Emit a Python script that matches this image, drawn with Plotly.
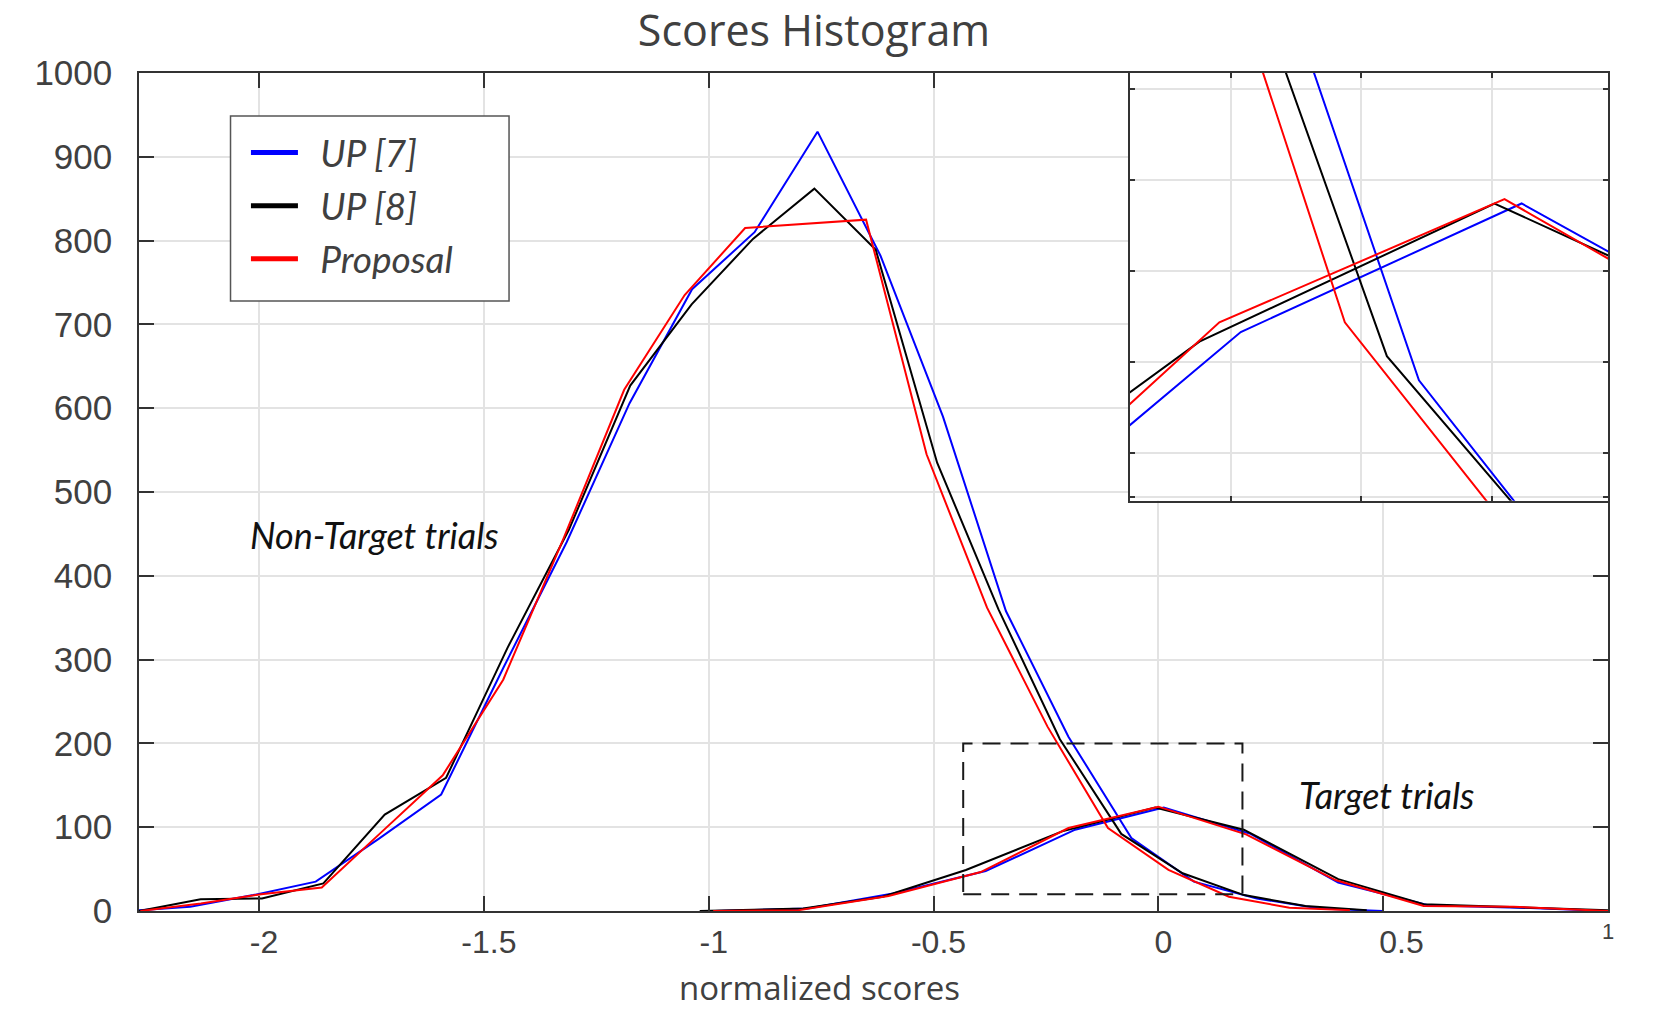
import plotly.graph_objects as go

# ---------------- data ----------------
# Non-target trials
up7_nontarget_x = [-2.292, -2.153, -2.013, -1.874, -1.734, -1.595, -1.455, -1.316, -1.176, -1.037,
                   -0.898, -0.758, -0.618, -0.479, -0.339, -0.200, -0.060, 0.079, 0.219, 0.358, 0.498]
up7_nontarget_y = [0, 5, 19, 35, 86, 139, 292, 440, 606, 742,
                   810, 930, 782, 590, 358, 208, 87, 35, 15, 3, 0]

up8_nontarget_x = [-2.2665, -2.130, -1.9935, -1.857, -1.7205, -1.584, -1.4475, -1.311, -1.1745, -1.038,
                   -0.9015, -0.765, -0.6285, -0.492, -0.3555, -0.219, -0.0825, 0.054, 0.1905, 0.327, 0.4635]
up8_nontarget_y = [0, 14, 15, 33, 115, 159, 314, 455, 627, 724,
                   802, 862, 789, 535, 360, 205, 92, 45, 19, 6, 1]

prop_nontarget_x = [-2.264, -2.1295, -1.995, -1.8605, -1.726, -1.5915, -1.457, -1.3225, -1.188, -1.0535,
                    -0.919, -0.7845, -0.65, -0.5155, -0.381, -0.2465, -0.112, 0.0225, 0.157, 0.2915, 0.426]
prop_nontarget_y = [0, 9, 20, 28, 95, 162, 276, 445, 622, 735,
                    815, 820, 825, 545, 362, 220, 99, 49, 17, 4, 1]

# Target trials
up7_target_x = [-0.985, -0.78, -0.59, -0.384, -0.185, 0.012, 0.205, 0.40, 0.60, 0.80, 1.0]
up7_target_y = [0, 3, 21, 47.7, 97, 123.6, 92, 34, 7, 4, 0]

up8_target_x = [-1.02, -0.79, -0.613, -0.428, -0.214, -0.007, 0.19, 0.40, 0.59, 0.79, 1.0]
up8_target_y = [0, 3, 17, 49, 95, 123.6, 97, 38, 8, 5, 1]

prop_target_x = [-0.99, -0.80, -0.60, -0.395, -0.20, 0.0, 0.195, 0.395, 0.59, 0.79, 1.0]
prop_target_y = [0, 1, 18, 46.5, 99, 124.5, 91.5, 36.6, 6, 5, 0]

series_names = ["UP [7]", "UP [8]", "Proposal"]
series_colors = ["#0000ff", "#000000", "#ff0000"]

NB = "\u00a0"
x_ticks = [-2, -1.5, -1, -0.5, 0, 0.5]
x_ticktext = ["-2", "-1.5", "-1", "-0.5", "0", NB * 3 + "0.5"]
y_ticks = [0, 100, 200, 300, 400, 500, 600, 700, 800, 900, 1000]

main_x_range = [-2.267, 1.0]
main_y_range = [0, 1000]

# zoom window marked by the dashed box, and range shown in the inset
box_x = [-0.434, 0.187]
box_y = [20, 200]
inset_x_range = [-0.2627, 0.0726]
inset_y_range = [62.1, 150.6]
inset_x_grid = [-0.1921, -0.1004, -0.0088]
inset_y_grid = [62.8, 72.0, 90.8, 109.65, 128.5, 147.3]

# ---------------- figure ----------------
GRAY = "#404040"
AXC = "#333333"
GRID = "#e3e3e3"

nontarget = [(up7_nontarget_x, up7_nontarget_y), (up8_nontarget_x, up8_nontarget_y),
             (prop_nontarget_x, prop_nontarget_y)]
target = [(up7_target_x, up7_target_y), (up8_target_x, up8_target_y),
          (prop_target_x, prop_target_y)]

fig = go.Figure()
for axes in [("x", "y"), ("x2", "y2")]:
    for i in range(3):
        for xs, ys in (nontarget[i], target[i]):
            fig.add_trace(go.Scatter(x=xs, y=ys, mode="lines", xaxis=axes[0], yaxis=axes[1],
                                     line=dict(color=series_colors[i], width=2),
                                     showlegend=False, hoverinfo="skip"))

# legend entries (thicker swatches)
for i in range(3):
    fig.add_trace(go.Scatter(x=[None], y=[None], mode="lines", name=NB * 2 + series_names[i],
                             legendgroup=series_names[i],
                             line=dict(color=series_colors[i], width=5)))

axis_common = dict(showline=True, linecolor=AXC, linewidth=1.5, mirror="ticks",
                   ticks="inside", tickcolor=AXC, tickwidth=1.5,
                   showgrid=True, gridcolor=GRID, gridwidth=1.5, zeroline=False)

# legend frame (paper coordinates)
leg_frame = dict(x0=0.0623, x1=0.2519, y0=0.7279, y1=0.9487)

fig.update_layout(
    width=1667, height=1009,
    margin=dict(l=139, r=59, t=73, b=98),
    paper_bgcolor="white", plot_bgcolor="white",
    title=dict(text="Scores Histogram", x=0.4883, xref="container", xanchor="center",
               y=0.9693, yref="container", yanchor="middle",
               font=dict(family="Open Sans", size=43, color=GRAY)),
    xaxis=dict(range=main_x_range, domain=[0, 1], anchor="y",
               tickvals=x_ticks, ticktext=x_ticktext, ticklen=15,
               tickfont=dict(family="Liberation Sans", size=32, color=GRAY),
               ticklabelstandoff=2, ticklabelshift=5, **axis_common),
    yaxis=dict(range=main_y_range, domain=[0, 1], anchor="x",
               tickvals=y_ticks, ticklen=15,
               tickfont=dict(family="Liberation Sans", size=35, color=GRAY),
               ticklabelstandoff=18, **axis_common),
    xaxis2=dict(range=inset_x_range, domain=[0.6746, 1], anchor="y2",
                tickvals=inset_x_grid, showticklabels=False, ticklen=5, **axis_common),
    yaxis2=dict(range=inset_y_range, domain=[0.4896, 1], anchor="x2",
                tickvals=inset_y_grid, showticklabels=False, ticklen=5, **axis_common),
    legend=dict(x=0.0728, y=0.9415, xanchor="left", yanchor="top",
                bgcolor="rgba(0,0,0,0)", borderwidth=0,
                font=dict(family="Lato", size=37, color=GRAY, style="italic"),
                itemwidth=47, tracegroupgap=2),
    shapes=[
        dict(type="rect", xref="paper", yref="paper", layer="above",
             line=dict(color="#555555", width=1.5), fillcolor="white", **leg_frame),
        dict(type="rect", xref="x", yref="y", x0=box_x[0], x1=box_x[1], y0=box_y[0], y1=box_y[1],
             line=dict(color="#1a1a1a", width=2, dash="18px,10px"), layer="above"),
    ],
    annotations=[
        dict(text="Non-Target trials", x=-2.024, y=449, xref="x", yref="y",
             xanchor="left", yanchor="middle", showarrow=False,
             font=dict(family="Lato", size=36, color="#111111", style="italic")),
        dict(text="Target trials", x=0.308, y=139, xref="x", yref="y",
             xanchor="left", yanchor="middle", showarrow=False,
             font=dict(family="Lato", size=36, color="#111111", style="italic")),
        dict(text="normalized scores", x=0.4629, y=-0.0907, xref="paper", yref="paper",
             xanchor="center", yanchor="middle", showarrow=False,
             font=dict(family="Open Sans", size=33, color=GRAY)),
        dict(text="1", x=1.0, y=-0.025, xref="x", yref="paper",
             xanchor="center", yanchor="middle", showarrow=False,
             font=dict(family="Liberation Sans", size=22, color=GRAY)),
    ],
)

fig.write_html("out.html")
